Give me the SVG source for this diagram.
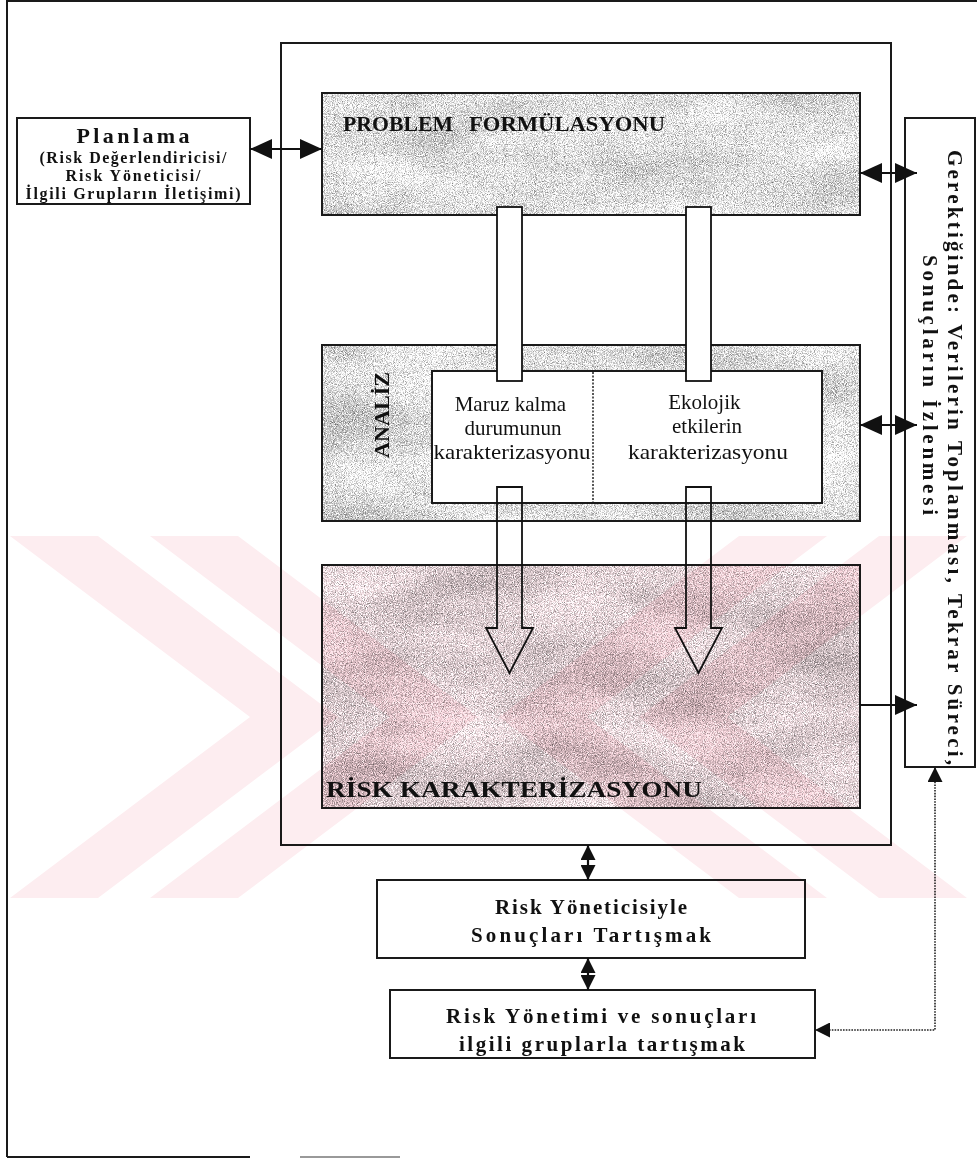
<svg xmlns="http://www.w3.org/2000/svg" width="977" height="1160" viewBox="0 0 977 1160">
  <defs>
    <style>
      .bs { font-family: "Liberation Serif", "Times New Roman", serif; font-weight: bold; fill: #111; }
      .rs { font-family: "Liberation Serif", "Times New Roman", serif; fill: #111; }
      .frame { fill: none; stroke: #1a1a1a; stroke-width: 2; }
      .box { fill: #fff; stroke: #1a1a1a; stroke-width: 2; }
      .edge { fill: none; stroke: #111; stroke-width: 2.2; }
      .hollow { fill: none; stroke: #111; stroke-width: 1.8; }
      .dotted { fill: none; stroke: #222; stroke-width: 1.6; stroke-dasharray: 1.6 1.2; }
      .wm { fill: #fdedf0; mix-blend-mode: multiply; }
    </style>
    <!-- mottled grey fill used by the three stage panels -->
    <filter id="grain" x="0" y="0" width="100%" height="100%" color-interpolation-filters="sRGB">
      <feTurbulence type="fractalNoise" baseFrequency="1.1" numOctaves="2" seed="4" result="fine"/>
      <feColorMatrix in="fine" type="matrix" values="1 0 0 0 0  1 0 0 0 0  1 0 0 0 0  0 0 0 0 1" result="fineG"/>
      <feTurbulence type="fractalNoise" baseFrequency="0.008 0.02" numOctaves="3" seed="11" result="coarse"/>
      <feColorMatrix in="coarse" type="matrix" values="1 0 0 0 0  1 0 0 0 0  1 0 0 0 0  0 0 0 0 1" result="coarseG"/>
      <feComposite in="fineG" in2="coarseG" operator="arithmetic" k1="0" k2="1.0" k3="0.3" k4="0.12" result="mix"/>
      <feComposite in="mix" in2="SourceGraphic" operator="arithmetic" k1="1.5" k2="0" k3="0" k4="0" result="tinted"/>
      <feComposite in="tinted" in2="SourceGraphic" operator="in"/>
    </filter>
    <marker id="ah" viewBox="0 0 22 20" refX="22" refY="10" markerWidth="22" markerHeight="20" markerUnits="userSpaceOnUse" orient="auto-start-reverse">
      <path d="M0,0 L22,10 L0,20 z" fill="#111"/>
    </marker>
    <marker id="ahs" viewBox="0 0 15 15" refX="15" refY="7.5" markerWidth="15" markerHeight="15" markerUnits="userSpaceOnUse" orient="auto-start-reverse">
      <path d="M0,0 L15,7.5 L0,15 z" fill="#111"/>
    </marker>
  </defs>

  <rect width="977" height="1160" fill="#fff"/>

  <!-- page frame -->
  <g id="page-frame">
    <path d="M7,1157 V1 H977" class="frame"/>
    <path d="M7,1157 H250" class="frame"/>
    <path d="M300,1157 H400" fill="none" stroke="#777" stroke-width="1.5"/>
  </g>

  <!-- main assessment frame -->
  <g id="assessment-frame">
    <rect x="281" y="43" width="610" height="802" class="box"/>
  </g>

  <g id="planlama">
    <rect x="17" y="118" width="233" height="86" class="box"/>
    <text x="133" y="143" class="bs" font-size="22" text-anchor="middle" textLength="113" lengthAdjust="spacing">Planlama</text>
    <text x="133" y="163" class="bs" font-size="16" text-anchor="middle" textLength="187" lengthAdjust="spacing">(Risk Değerlendiricisi/</text>
    <text x="133" y="181" class="bs" font-size="16" text-anchor="middle" textLength="135" lengthAdjust="spacing">Risk Yöneticisi/</text>
    <text x="133" y="199" class="bs" font-size="16" text-anchor="middle" textLength="215" lengthAdjust="spacing">İlgili Grupların İletişimi)</text>
  </g>

  <g id="problem-formulasyonu">
    <rect x="322" y="93" width="538" height="122" fill="#c2c2c2" filter="url(#grain)"/>
    <rect x="322" y="93" width="538" height="122" fill="none" stroke="#1a1a1a" stroke-width="2"/>
    <text x="343" y="131" class="bs" font-size="22" textLength="110" lengthAdjust="spacingAndGlyphs">PROBLEM</text>
    <text x="469" y="131" class="bs" font-size="22" textLength="196" lengthAdjust="spacingAndGlyphs">FORMÜLASYONU</text>
  </g>

  <g id="analiz">
    <rect x="322" y="345" width="538" height="176" fill="#c0c0c0" filter="url(#grain)"/>
    <rect x="322" y="345" width="538" height="176" fill="none" stroke="#1a1a1a" stroke-width="2"/>
    <text transform="translate(389,458) rotate(-90)" class="bs" font-size="22" textLength="86" lengthAdjust="spacingAndGlyphs">ANALİZ</text>
    <rect x="432" y="371" width="390" height="132" class="box"/>
    <line x1="593" y1="372" x2="593" y2="502" stroke="#222" stroke-width="1.5" stroke-dasharray="2 1.5"/>
    <text class="rs" font-size="21" text-anchor="middle">
      <tspan x="513" y="411">Maruz kalma</tspan>
      <tspan x="513" y="435">durumunun</tspan>
    </text>
    <text x="512" y="459" class="rs" font-size="21" text-anchor="middle" textLength="157" lengthAdjust="spacingAndGlyphs">karakterizasyonu</text>
    <text class="rs" font-size="21" text-anchor="middle">
      <tspan x="707" y="409">Ekolojik</tspan>
      <tspan x="707" y="433">etkilerin</tspan>
    </text>
    <text x="708" y="459" class="rs" font-size="21" text-anchor="middle" textLength="160" lengthAdjust="spacingAndGlyphs">karakterizasyonu</text>
  </g>

  <g id="risk-karakterizasyonu">
    <rect x="322" y="565" width="538" height="243" fill="#bfb1b4" filter="url(#grain)"/>
    <rect x="322" y="565" width="538" height="243" fill="none" stroke="#1a1a1a" stroke-width="2"/>
    <text x="326" y="797" class="bs" font-size="23" textLength="376" lengthAdjust="spacingAndGlyphs">RİSK KARAKTERİZASYONU</text>
  </g>

  <g id="izleme">
    <rect x="905" y="118" width="70" height="649" class="box"/>
    <text transform="translate(948,150) rotate(90)" class="bs" font-size="21" textLength="615" lengthAdjust="spacing">Gerektiğinde: Verilerin Toplanması, Tekrar Süreci,</text>
    <text transform="translate(923,255) rotate(90)" class="bs" font-size="21" textLength="260" lengthAdjust="spacing">Sonuçların İzlenmesi</text>
  </g>

  <g id="yonetici-tartisma">
    <rect x="377" y="880" width="428" height="78" class="box"/>
    <text x="591" y="914" class="bs" font-size="21" text-anchor="middle" textLength="192" lengthAdjust="spacing">Risk Yöneticisiyle</text>
    <text x="591" y="942" class="bs" font-size="21" text-anchor="middle" textLength="240" lengthAdjust="spacing">Sonuçları Tartışmak</text>
  </g>

  <g id="gruplar-tartisma">
    <rect x="390" y="990" width="425" height="68" class="box"/>
    <text x="601" y="1023" class="bs" font-size="21" text-anchor="middle" textLength="310" lengthAdjust="spacing">Risk Yönetimi ve sonuçları</text>
    <text x="602" y="1051" class="bs" font-size="21" text-anchor="middle" textLength="286" lengthAdjust="spacing">ilgili gruplarla tartışmak</text>
  </g>

  <!-- connectors -->
  <g id="connectors">
    <!-- hollow flow arrows between the stages -->
    <rect x="497" y="207" width="25" height="174" fill="#fff" stroke="#111" stroke-width="1.8"/>
    <rect x="686" y="207" width="25" height="174" fill="#fff" stroke="#111" stroke-width="1.8"/>
    <path d="M497,487 V628 H486 L509.5,673 L533,628 H522 V487 Z" class="hollow"/>
    <path d="M686,487 V628 H675 L698.5,673 L722,628 H711 V487 Z" class="hollow"/>

    <line x1="250" y1="149" x2="322" y2="149" class="edge" marker-start="url(#ah)" marker-end="url(#ah)"/>
    <line x1="860" y1="173" x2="917" y2="173" class="edge" marker-start="url(#ah)" marker-end="url(#ah)"/>
    <line x1="860" y1="425" x2="917" y2="425" class="edge" marker-start="url(#ah)" marker-end="url(#ah)"/>
    <line x1="860" y1="705" x2="917" y2="705" class="edge" marker-end="url(#ah)"/>
    <line x1="588" y1="845" x2="588" y2="880" class="edge" marker-start="url(#ahs)" marker-end="url(#ahs)"/>
    <line x1="588" y1="958" x2="588" y2="990" class="edge" marker-start="url(#ahs)" marker-end="url(#ahs)"/>
    <path d="M815,1030 H935 V767" class="dotted" marker-start="url(#ahs)" marker-end="url(#ahs)"/>
  </g>

  <!-- faint chevron stamp across the lower half -->
  <g id="stamp">
    <polygon class="wm" points="10,536 98,536 338,717 98,898 10,898 250,717"/>
    <polygon class="wm" points="150,536 238,536 478,717 238,898 150,898 390,717"/>
    <polygon class="wm" points="967,536 879,536 639,717 879,898 967,898 727,717"/>
    <polygon class="wm" points="827,536 739,536 499,717 739,898 827,898 587,717"/>
  </g>
</svg>
